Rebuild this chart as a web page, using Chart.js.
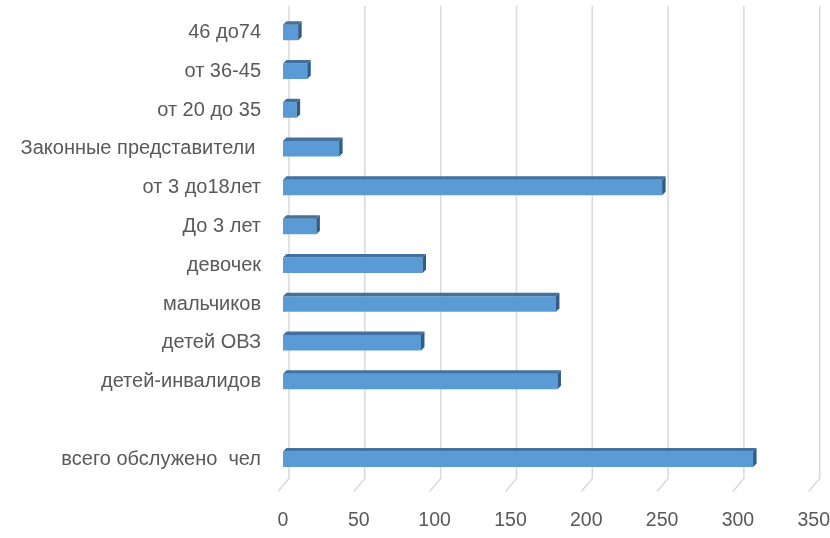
<!DOCTYPE html>
<html>
<head>
<meta charset="utf-8">
<script src="https://cdn.jsdelivr.net/npm/chart.js@4.4.1/dist/chart.umd.min.js"></script>
<style>
  html, body { margin: 0; padding: 0; background: #ffffff; overflow: hidden; }
  canvas { display: block; }
</style>
</head>
<body>
<canvas id="c" width="830" height="538" style="width:830px;height:538px"></canvas>
<script>
const categories = [
  "46 до74",
  "от 36-45",
  "от 20 до 35",
  "Законные представители ",
  "от 3 до18лет",
  "До 3 лет",
  "девочек",
  "мальчиков",
  "детей ОВЗ",
  "детей-инвалидов",
  "",
  "всего обслужено  чел"
];
const values = [10, 16, 9, 37, 250, 22, 92, 180, 91, 181, null, 310];
const xTicks = [0, 50, 100, 150, 200, 250, 300, 350];

const DEPTH = 3.5;
const GRID_SHIFT = 6;
const FONT = "'Liberation Sans', Arial, sans-serif";

const threeD = {
  id: 'threeD',
  beforeDatasetsDraw(chart) {
    const ctx = chart.ctx;
    const xs = chart.scales.x;
    const area = chart.chartArea;
    ctx.save();
    ctx.strokeStyle = '#d9d9d9';
    ctx.lineWidth = 1.5;
    xTicks.forEach(v => {
      const px = xs.getPixelForValue(v) + GRID_SHIFT;
      ctx.beginPath();
      ctx.moveTo(px, area.top - 7);
      ctx.lineTo(px, area.bottom);
      ctx.lineTo(px - 11, area.bottom + 13);
      ctx.stroke();
    });
    ctx.restore();
  },
  afterDatasetsDraw(chart) {
    const ctx = chart.ctx;
    const meta = chart.getDatasetMeta(0);
    ctx.save();
    meta.data.forEach((bar, i) => {
      if (values[i] === null || values[i] === undefined) return;
      const p = bar.getProps(['x', 'y', 'base', 'height'], true);
      const top = p.y - p.height / 2;
      const bottom = p.y + p.height / 2;
      const x0 = p.base, x1 = p.x;
      ctx.fillStyle = '#41719c';
      ctx.beginPath();
      ctx.moveTo(x0, top);
      ctx.lineTo(x0 + DEPTH, top - DEPTH);
      ctx.lineTo(x1 + DEPTH, top - DEPTH);
      ctx.lineTo(x1, top);
      ctx.closePath();
      ctx.fill();
      ctx.fillStyle = '#2f5d87';
      ctx.beginPath();
      ctx.moveTo(x1, top);
      ctx.lineTo(x1 + DEPTH, top - DEPTH);
      ctx.lineTo(x1 + DEPTH, bottom - DEPTH);
      ctx.lineTo(x1, bottom);
      ctx.closePath();
      ctx.fill();
    });
    ctx.restore();
  }
};

new Chart(document.getElementById('c'), {
  type: 'bar',
  data: {
    labels: categories,
    datasets: [{
      data: values,
      backgroundColor: '#5b9bd5',
      borderWidth: 0,
      categoryPercentage: 1,
      barPercentage: 0.4
    }]
  },
  options: {
    indexAxis: 'y',
    responsive: false,
    devicePixelRatio: 1,
    animation: false,
    layout: { padding: { left: 0, right: 15, top: 13, bottom: 6 } },
    plugins: { legend: { display: false }, tooltip: { enabled: false } },
    scales: {
      x: {
        min: 0, max: 350,
        afterBuildTicks(scale) { scale.ticks = xTicks.map(v => ({ value: v })); },
        grid: { display: false, drawTicks: true, tickLength: 30 },
        border: { display: false },
        ticks: {
          padding: 0,
          color: '#595959',
          font: { family: FONT, size: 19.5 }
        }
      },
      y: {
        afterFit(scale) { scale.width = 283; },
        grid: { display: false, drawTicks: true, tickLength: 22 },
        border: { display: false },
        ticks: {
          padding: 0,
          autoSkip: false,
          color: '#595959',
          font: { family: FONT, size: 20 }
        }
      }
    }
  },
  plugins: [threeD]
});
</script>
</body>
</html>
